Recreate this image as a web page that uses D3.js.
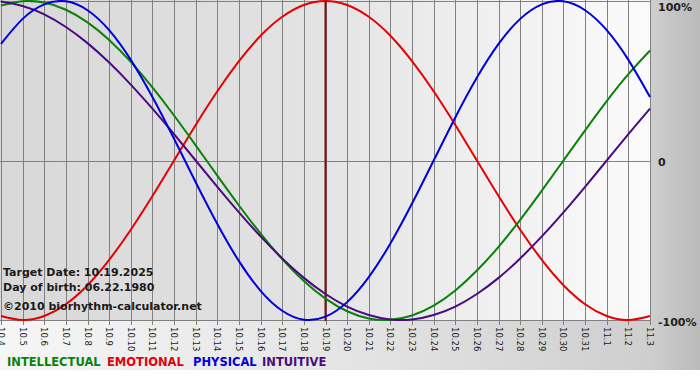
<!DOCTYPE html>
<html>
<head>
<meta charset="utf-8">
<script src="https://cdn.jsdelivr.net/npm/d3@7"></script>
<style>
  body { margin: 0; background: #fff; }
  svg { display: block; }
  text { font-family: "DejaVu Sans", Verdana, sans-serif; }
</style>
</head>
<body>
<script>
// days shown on the x axis
var days = ["10.4","10.5","10.6","10.7","10.8","10.9","10.10","10.11","10.12","10.13",
  "10.14","10.15","10.16","10.17","10.18","10.19","10.20","10.21","10.22","10.23",
  "10.24","10.25","10.26","10.27","10.28","10.29","10.30","10.31","11.1","11.2","11.3"];

// cycle values in percent, one per day
var intellectual = [97.2, 99.9, 99.0, 94.5, 86.6, 75.6, 61.8, 45.8, 28.2, 9.5, -9.5, -28.2,
  -45.8, -61.8, -75.6, -86.6, -94.5, -99.0, -99.9, -97.2, -91.0, -81.5, -69.0, -54.1,
  -37.2, -18.9, 0, 18.9, 37.2, 54.1, 69.0];
var emotional = [-97.5, -100, -97.5, -90.1, -78.2, -62.3, -43.4, -22.3, 0, 22.3, 43.4, 62.3,
  78.2, 90.1, 97.5, 100, 97.5, 90.1, 78.2, 62.3, 43.4, 22.3, 0, -22.3, -43.4, -62.3,
  -78.2, -90.1, -97.5, -100, -97.5];
var physical = [73.1, 88.8, 97.9, 99.8, 94.2, 81.7, 63.1, 39.8, 13.6, -13.6, -39.8, -63.1,
  -81.7, -94.2, -99.8, -97.9, -88.8, -73.1, -52.0, -27.0, 0, 27.0, 52.0, 73.1, 88.8,
  97.9, 99.8, 94.2, 81.7, 63.1, 39.8];
var intuitive = [99.7, 96.9, 91.6, 83.7, 73.6, 61.4, 47.6, 32.5, 16.5, 0, -16.5, -32.5,
  -47.6, -61.4, -73.6, -83.7, -91.6, -96.9, -99.7, -99.7, -96.9, -91.6, -83.7, -73.6,
  -61.4, -47.6, -32.5, -16.5, 0, 16.5, 32.5];

var seriesNames = ["INTELLECTUAL", "EMOTIONAL", "PHYSICAL", "INTUITIVE"];
var seriesColors = ["#0a820a", "#e60000", "#0000dc", "#4b0a82"];
var yTicks = [100, 0, -100];
var yTickLabels = ["100%", "0", "-100%"];
var targetDay = "10.19";
var infoLines = ["Target Date: 10.19.2025", "Day of birth: 06.22.1980", "\u00a92010 biorhythm-calculator.net"];

var W = 700, H = 380;
var plot = {left: 0, right: 651, top: 0, bottom: 321};

var svg = d3.select("body").append("svg")
    .attr("width", W)
    .attr("height", H);

var defs = svg.append("defs");

var outerGrad = defs.append("linearGradient").attr("id", "outerGrad");
outerGrad.append("stop").attr("offset", "0%").attr("stop-color", "#f6f6f6");
outerGrad.append("stop").attr("offset", "55%").attr("stop-color", "#e2e2e2");
outerGrad.append("stop").attr("offset", "93%").attr("stop-color", "#cecece");
outerGrad.append("stop").attr("offset", "100%").attr("stop-color", "#bababa");

var plotGrad = defs.append("linearGradient").attr("id", "plotGrad");
plotGrad.append("stop").attr("offset", "0%").attr("stop-color", "#d8d8d8");
plotGrad.append("stop").attr("offset", "45%").attr("stop-color", "#e2e2e2");
plotGrad.append("stop").attr("offset", "100%").attr("stop-color", "#fbfbfb");

defs.append("clipPath").attr("id", "plotClip")
  .append("rect")
    .attr("x", plot.left).attr("y", plot.top)
    .attr("width", plot.right - plot.left).attr("height", plot.bottom - plot.top + 1);

svg.append("rect")
    .attr("x", 0).attr("y", 0)
    .attr("width", W).attr("height", 370)
    .attr("fill", "url(#outerGrad)");

svg.append("rect")
    .attr("x", plot.left).attr("y", plot.top)
    .attr("width", plot.right - plot.left).attr("height", plot.bottom - plot.top)
    .attr("fill", "url(#plotGrad)");

var xScale = d3.scalePoint()
    .domain(days)
    .range([1, 650]);

var yScale = d3.scaleLinear()
    .domain([-100, 100])
    .range([320, 1]);

// vertical grid lines
svg.append("g").selectAll("line")
    .data(days)
    .enter()
    .append("line")
    .attr("x1", function(d) { return Math.round(xScale(d)) + 0.5; })
    .attr("x2", function(d) { return Math.round(xScale(d)) + 0.5; })
    .attr("y1", plot.top)
    .attr("y2", plot.bottom + 4)
    .attr("stroke", "#808080")
    .attr("stroke-width", 1);

// horizontal lines at 100, 0, -100
svg.append("g").selectAll("line")
    .data(yTicks)
    .enter()
    .append("line")
    .attr("x1", plot.left)
    .attr("x2", plot.right)
    .attr("y1", function(d) { return Math.round(yScale(d)) + 0.5; })
    .attr("y2", function(d) { return Math.round(yScale(d)) + 0.5; })
    .attr("stroke", "#808080")
    .attr("stroke-width", 1);

// target day marker
svg.append("line")
    .attr("x1", xScale(targetDay))
    .attr("x2", xScale(targetDay))
    .attr("y1", plot.top)
    .attr("y2", plot.bottom)
    .attr("stroke", "#7a0d0d")
    .attr("stroke-width", 2);

var line = d3.line()
    .x(function(d, i) { return xScale(days[i]); })
    .y(function(d) { return yScale(d); })
    .curve(d3.curveNatural);

var allSeries = [intellectual, emotional, physical, intuitive];
var drawOrder = [1, 0, 3, 2];

svg.append("g")
    .attr("clip-path", "url(#plotClip)")
    .selectAll("path")
    .data(drawOrder)
    .enter()
    .append("path")
    .attr("d", function(i) { return line(allSeries[i]); })
    .attr("fill", "none")
    .attr("stroke", function(i) { return seriesColors[i]; })
    .attr("stroke-width", 2);

// x labels, rotated
svg.append("g").selectAll("text")
    .data(days)
    .enter()
    .append("text")
    .attr("transform", function(d) {
        return "translate(" + xScale(d) + "," + (plot.bottom + 6) + ") rotate(90)";
    })
    .attr("dy", "0.35em")
    .style("font-size", "8.5px")
    .attr("fill", "#1a1a1a")
    .text(function(d) { return d; });

// y labels on the right
svg.append("g").selectAll("text")
    .data(yTicks)
    .enter()
    .append("text")
    .attr("x", 658)
    .attr("y", function(d, i) { return i == 0 ? 11 : yScale(d) + 5.5; })
    .style("font-size", "11px")
    .style("font-weight", "bold")
    .attr("fill", "#222")
    .text(function(d, i) { return yTickLabels[i]; });

// info text
var infoY = [276, 291, 310];
svg.append("g").selectAll("text")
    .data(infoLines)
    .enter()
    .append("text")
    .attr("x", 3)
    .attr("y", function(d, i) { return infoY[i]; })
    .style("font-size", "11px")
    .style("font-weight", "bold")
    .attr("fill", "#1a1a1a")
    .text(function(d) { return d; });

// legend
var legendX = [7, 107, 193, 262];
svg.append("g").selectAll("text")
    .data(seriesNames)
    .enter()
    .append("text")
    .attr("x", function(d, i) { return legendX[i]; })
    .attr("y", 366)
    .style("font-size", "11.5px")
    .style("font-weight", "bold")
    .attr("fill", function(d, i) { return seriesColors[i]; })
    .text(function(d) { return d; });
</script>
</body>
</html>
